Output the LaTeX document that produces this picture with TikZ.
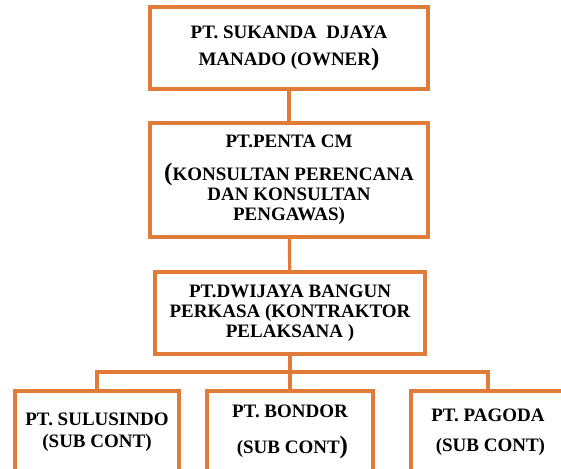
\documentclass[tikz,border=0pt]{standalone}
\usepackage{fontspec}
\setmainfont{Liberation Serif}[BoldFont={Liberation Serif Bold}]
\usepackage{xcolor}
\definecolor{boxorange}{HTML}{E07B39}
\tikzset{
	orgbox/.style={
			draw=boxorange, line width=3.2pt, fill=white,
			align=center, inner sep=0pt,
			font=\bfseries\fontsize{19}{20}\selectfont
		},
	link/.style={draw=boxorange, line width=3.2pt}
}
\newcommand{\bigparen}[1]{{\fontsize{25}{20}\selectfont #1}}

\begin{document}
\begin{tikzpicture}[x=1pt, y=-1pt]
		\useasboundingbox (0,0) rectangle (561,468);
		\clip (0,0) rectangle (561,468);

		\node[orgbox, minimum width=278pt, minimum height=82pt] (owner) at (289,48)
			{PT. SUKANDA\ \ DJAYA\\[7pt]MANADO (OWNER\bigparen{)}};
		\node[orgbox, minimum width=278pt, minimum height=114pt] (konsultan) at (289,180)
			{PT.PENTA CM\\[13pt]\bigparen{(}KONSULTAN PERENCANA\\DAN KONSULTAN\\PENGAWAS)};
		\node[orgbox, minimum width=270pt, minimum height=82pt] (kontraktor) at (290,313)
			{PT.DWIJAYA BANGUN\\PERKASA (KONTRAKTOR\\PELAKSANA )};

		\node[orgbox, minimum width=164pt, minimum height=82pt] (sulusindo) at (97,432)
			{PT. SULUSINDO\\[2pt](SUB CONT)};
		\node[orgbox, minimum width=166pt, minimum height=82pt] (bondor) at (290,432)
			{PT. BONDOR\\[16pt]\ (SUB CONT\bigparen{)}};
		\node[orgbox, minimum width=154pt, minimum height=82pt] (pagoda) at (488,432)
			{PT. PAGODA\\[10pt]\ (SUB CONT)};

		\coordinate (bus) at (290,372);

		\draw[link] (owner) -- (konsultan);
		\draw[link] (konsultan) -- (kontraktor);
		\draw[link] (kontraktor) -- (bondor);
		\draw[link] (sulusindo.north) |- (bus) -| (pagoda.north);
	\end{tikzpicture}
\end{document}
